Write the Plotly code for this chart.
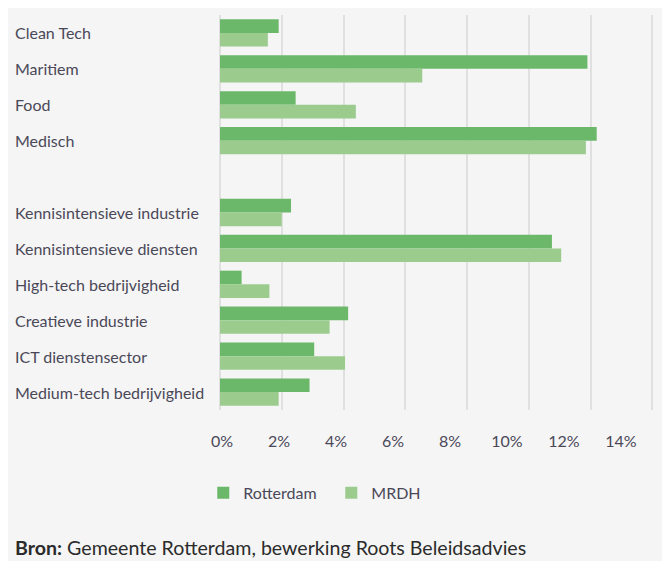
import plotly.graph_objects as go

# Data (values in %)
sectors_top = ["Clean Tech", "Maritiem", "Food", "Medisch"]
sectors_bottom = ["Kennisintensieve industrie", "Kennisintensieve diensten",
                  "High-tech bedrijvigheid", "Creatieve industrie",
                  "ICT dienstensector", "Medium-tech bedrijvigheid"]
rotterdam_top = [1.9, 11.9, 2.45, 12.2]
mrdh_top = [1.55, 6.55, 4.4, 11.85]
rotterdam_bottom = [2.3, 10.75, 0.7, 4.15, 3.05, 2.9]
mrdh_bottom = [2.0, 11.05, 1.6, 3.55, 4.05, 1.9]
tick_values = [0, 2, 4, 6, 8, 10, 12, 14]
tick_labels = [f"{v}%" for v in tick_values]

labels = sectors_top + [""] + sectors_bottom
rotterdam = rotterdam_top + [None] + rotterdam_bottom
mrdh = mrdh_top + [None] + mrdh_bottom
ypos = list(range(len(labels)))

ROT = "#6cb86a"
MRD = "#9bcc8e"
BG = "#f5f5f5"
FONT = "Lato"
TXT = "#4a4858"

fig = go.Figure()
fig.add_trace(go.Bar(y=ypos, x=rotterdam, orientation="h", name="Rotterdam",
                     marker=dict(color=ROT, line=dict(width=0))))
fig.add_trace(go.Bar(y=ypos, x=mrdh, orientation="h", name="MRDH",
                     marker=dict(color=MRD, line=dict(width=0))))
# invisible helper so the label axis is drawn
fig.add_trace(go.Scatter(x=tick_values, y=[ypos[0]] * len(tick_values), xaxis="x2",
                         mode="markers", marker=dict(opacity=0), hoverinfo="skip",
                         showlegend=False))

annotations = []
for i, lab in enumerate(labels):
    if lab:
        annotations.append(dict(x=-0.4705, xref="paper", y=i, yref="y", text=lab,
                                showarrow=False, xanchor="left", yanchor="middle",
                                font=dict(family=FONT, size=16, color=TXT)))
annotations.append(dict(x=-0.4705, xref="paper", y=-0.349, yref="paper",
                        text="<b>Bron:</b> Gemeente Rotterdam, bewerking Roots Beleidsadvies",
                        showarrow=False, xanchor="left", yanchor="middle",
                        font=dict(family=FONT, size=19.6, color="#2b2b2b")))

fig.update_layout(
    width=662, height=553,
    margin=dict(l=212, r=10, t=7, b=151),
    paper_bgcolor=BG, plot_bgcolor=BG,
    barmode="group", bargap=0.24, bargroupgap=0,
    showlegend=True,
    legend=dict(orientation="h", x=-0.038, y=-0.21, xanchor="left", yanchor="middle",
                font=dict(family=FONT, size=16, color=TXT),
                entrywidth=83, entrywidthmode="pixels", traceorder="normal",
                bgcolor="rgba(0,0,0,0)"),
    xaxis=dict(range=[0, 14.25], tickvals=tick_values, showticklabels=False,
               showgrid=True, gridcolor="#e0e0e0", gridwidth=1.5,
               zeroline=True, zerolinecolor="#e0e0e0", zerolinewidth=1.5,
               showline=False, ticks=""),
    xaxis2=dict(overlaying="x", side="bottom", anchor="y", range=[-0.07, 15.37],
                tickvals=tick_values, ticktext=tick_labels, showgrid=False,
                zeroline=False, showline=False, ticks="outside", ticklen=17,
                tickcolor="rgba(0,0,0,0)",
                tickfont=dict(family=FONT, size=16, color=TXT)),
    yaxis=dict(range=[len(labels) - 0.5, -0.5], showticklabels=False,
               showgrid=False, zeroline=False, ticks=""),
    annotations=annotations,
)

fig.write_html("out.html")
